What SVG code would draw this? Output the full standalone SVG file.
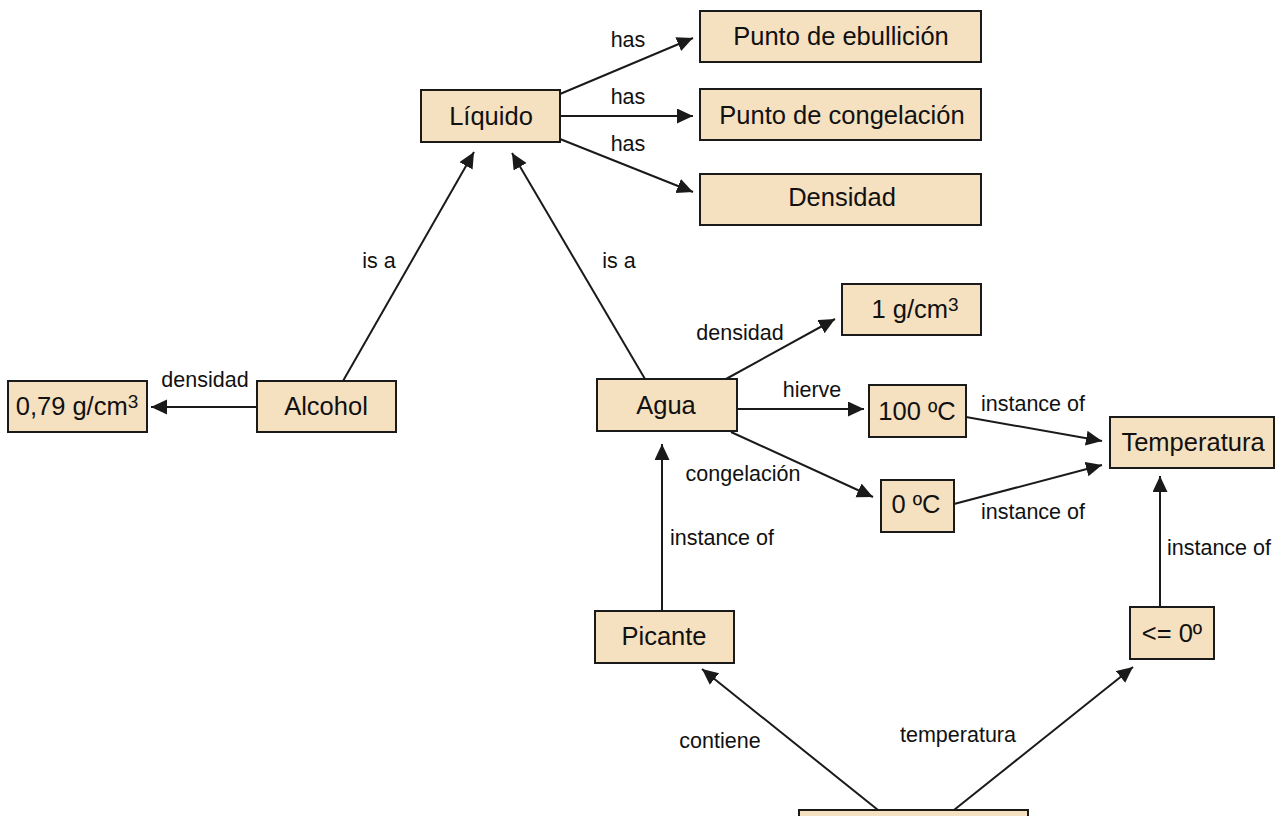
<svg xmlns="http://www.w3.org/2000/svg" width="1282" height="816" viewBox="0 0 1282 816">
<style>
.n rect{fill:#F5E0C0;stroke:#1a1a1a;stroke-width:2}
.n text{font-family:"Liberation Sans",Arial,sans-serif;font-size:25.5px;fill:#111;text-anchor:middle}
.c line{stroke:#1a1a1a;stroke-width:2;marker-end:url(#ah)}
.l{font-family:"Liberation Sans",Arial,sans-serif;font-size:21.5px;fill:#111;text-anchor:middle}
</style>
<defs>
<marker id="ah" markerUnits="userSpaceOnUse" markerWidth="18" markerHeight="16" refX="16" refY="7.5" orient="auto">
<path d="M0,0 L16,7.5 L0,15 z" fill="#1a1a1a"/>
</marker>
</defs>
<rect width="1282" height="816" fill="#fff"/>
<g id="connectors" class="c">
<line x1="560" y1="94" x2="693" y2="38"/>
<line x1="560" y1="116" x2="693" y2="116"/>
<line x1="560" y1="139" x2="693" y2="192"/>
<line x1="343" y1="381" x2="474" y2="152"/>
<line x1="645" y1="379" x2="512" y2="153"/>
<line x1="257" y1="407" x2="151" y2="407"/>
<line x1="726" y1="379" x2="835" y2="319"/>
<line x1="737" y1="409" x2="864" y2="409"/>
<line x1="731" y1="432" x2="873" y2="497"/>
<line x1="966" y1="417" x2="1102" y2="441"/>
<line x1="954" y1="504" x2="1102" y2="465"/>
<line x1="1160" y1="607" x2="1160" y2="476"/>
<line x1="662" y1="611" x2="662" y2="444"/>
<line x1="878" y1="810" x2="702" y2="669"/>
<line x1="954" y1="810" x2="1133" y2="667"/>
</g>
<g id="labels">
<text class="l" x="628" y="47">has</text>
<text class="l" x="628" y="104">has</text>
<text class="l" x="628" y="151">has</text>
<text class="l" x="379" y="268">is a</text>
<text class="l" x="619" y="268">is a</text>
<text class="l" x="205" y="387">densidad</text>
<text class="l" x="740" y="340">densidad</text>
<text class="l" x="812" y="397">hierve</text>
<text class="l" x="743" y="481">congelación</text>
<text class="l" x="1033" y="411">instance of</text>
<text class="l" x="1033" y="519">instance of</text>
<text class="l" x="1219" y="555">instance of</text>
<text class="l" x="722" y="545">instance of</text>
<text class="l" x="720" y="748">contiene</text>
<text class="l" x="958" y="742">temperatura</text>
</g>
<g id="liquido" class="n"><rect x="421" y="90" width="139" height="52"/><text x="491" y="125">Líquido</text></g>
<g id="ebullicion" class="n"><rect x="700" y="11" width="281" height="51"/><text x="841" y="45">Punto de ebullición</text></g>
<g id="congelacion" class="n"><rect x="700" y="89" width="281" height="51"/><text x="842" y="124">Punto de congelación</text></g>
<g id="densidad" class="n"><rect x="700" y="174" width="281" height="51"/><text x="842" y="206">Densidad</text></g>
<g id="dens-agua" class="n"><rect x="842" y="284" width="139" height="51"/><text x="915" y="318">1 g/cm<tspan font-size="19" dy="-7">3</tspan></text></g>
<g id="dens-alcohol" class="n"><rect x="8" y="381" width="139" height="51"/><text x="77" y="415">0,79 g/cm<tspan font-size="19" dy="-7">3</tspan></text></g>
<g id="alcohol" class="n"><rect x="257" y="381" width="139" height="51"/><text x="326" y="415">Alcohol</text></g>
<g id="agua" class="n"><rect x="597" y="379" width="140" height="52"/><text x="666" y="414">Agua</text></g>
<g id="c100" class="n"><rect x="869" y="385" width="97" height="52"/><text x="917" y="420">100 ºC</text></g>
<g id="c0" class="n"><rect x="881" y="480" width="73" height="52"/><text x="916" y="513">0 ºC</text></g>
<g id="temperatura" class="n"><rect x="1110" y="417" width="164" height="51"/><text x="1193" y="451">Temperatura</text></g>
<g id="picante" class="n"><rect x="595" y="611" width="139" height="52"/><text x="664" y="645">Picante</text></g>
<g id="le0" class="n"><rect x="1130" y="607" width="84" height="52"/><text x="1172" y="642">&lt;= 0º</text></g>
<g id="bottom" class="n"><rect x="799" y="810" width="229" height="40"/></g>
</svg>
